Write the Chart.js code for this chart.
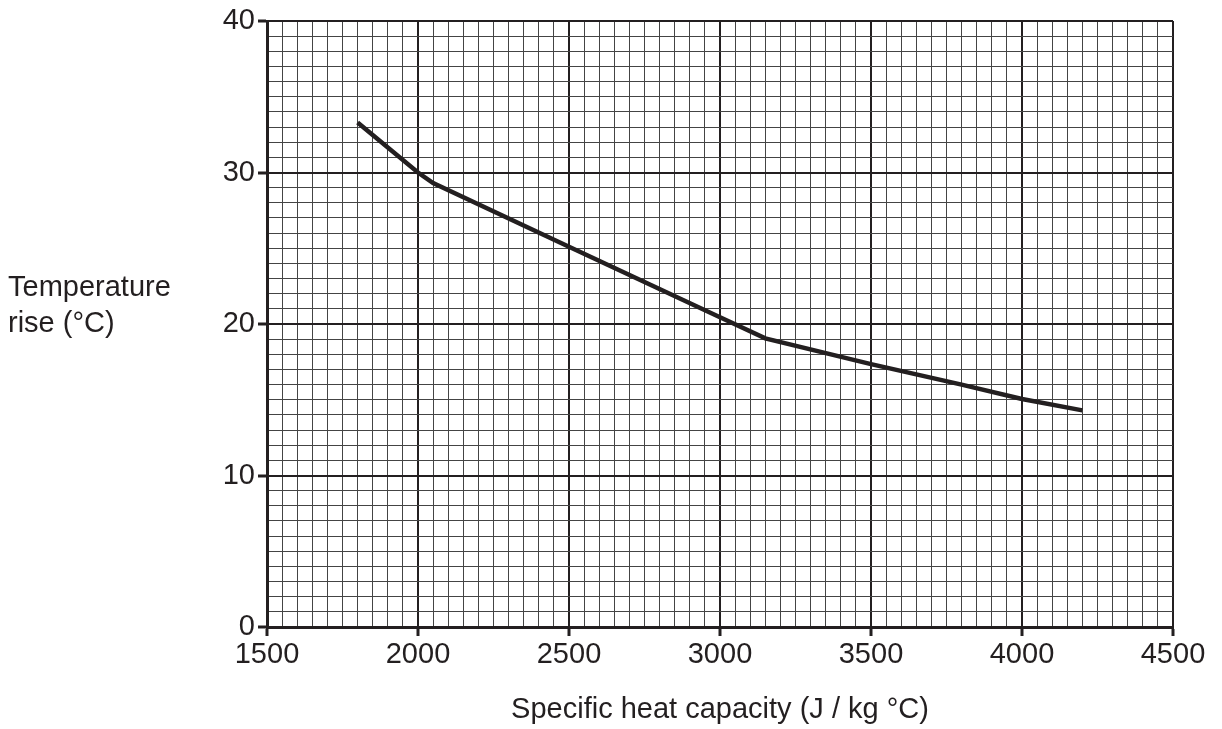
<!DOCTYPE html>
<html>
<head>
<meta charset="utf-8">
<script src="https://cdn.jsdelivr.net/npm/chart.js@4.4.1/dist/chart.umd.min.js"></script>
<style>
  html, body { margin: 0; padding: 0; background: #fff; }
  #wrap { position: relative; width: 1222px; height: 729px; }
  #yTitle {
    position: absolute; left: 8px; top: 268px;
    font-family: "Liberation Sans", Arial, sans-serif;
    font-size: 29px; line-height: 36px; color: #231f20;
  }
</style>
</head>
<body>
<div id="wrap">
  <canvas id="heatChart" width="1222" height="729"></canvas>
  <div id="yTitle">Temperature<br>rise (°C)</div>
</div>
<script>
const capacity = [1800, 2000, 2050, 2500, 3000, 3150, 3500, 3800, 4000, 4200];
const tempRise = [33.3, 30.0, 29.3, 25.1, 20.45, 19.05, 17.35, 16.0, 15.05, 14.3];

const xTicks = [1500, 2000, 2500, 3000, 3500, 4000, 4500];
const yTicks = [0, 10, 20, 30, 40];

const ink = "#231f20";
const font = { family: "'Liberation Sans', Arial, sans-serif", size: 29 };

const isMajorX = (v) => xTicks.includes(v);
const isMajorY = (v) => yTicks.includes(v);

const points = capacity.map((c, i) => ({ x: c, y: tempRise[i] }));

new Chart(document.getElementById("heatChart"), {
  type: "scatter",
  data: {
    datasets: [
      {
        data: points,
        showLine: true,
        borderColor: ink,
        borderWidth: 4.5,
        pointRadius: 0,
        tension: 0,
      },
    ],
  },
  options: {
    responsive: false,
    animation: false,
    events: [],
    layout: { padding: { left: 0, right: 49, top: 21, bottom: 0 } },
    plugins: { legend: { display: false }, tooltip: { enabled: false } },
    scales: {
      x: {
        type: "linear",
        min: xTicks[0],
        max: xTicks[xTicks.length - 1],
        afterFit: (scale) => { scale.height = 102; },
        afterBuildTicks: (scale) => {
          const t = [];
          for (let v = xTicks[0]; v <= xTicks[xTicks.length - 1]; v += 50) t.push({ value: v });
          scale.ticks = t;
        },
        ticks: {
          autoSkip: false,
          maxRotation: 0,
          padding: 2,
          color: ink,
          font: font,
          callback: (v) => (isMajorX(v) ? String(v) : ""),
        },
        grid: {
          color: (ctx) => (isMajorX(ctx.tick.value) ? ink : "#444"),
          lineWidth: (ctx) => (isMajorX(ctx.tick.value) ? 2 : 1),
          tickLength: 9,
          tickColor: (ctx) => (isMajorX(ctx.tick.value) ? ink : "rgba(0,0,0,0)"),
          tickWidth: 3,
        },
        border: { color: ink, width: 3 },
        title: {
          display: true,
          text: "Specific heat capacity (J / kg °C)",
          color: ink,
          font: font,
          padding: { top: 12, bottom: 2 },
        },
      },
      y: {
        type: "linear",
        min: yTicks[0],
        max: yTicks[yTicks.length - 1],
        afterFit: (scale) => { scale.width = 267; },
        afterBuildTicks: (scale) => {
          const t = [];
          for (let v = yTicks[0]; v <= yTicks[yTicks.length - 1]; v += 1) t.push({ value: v });
          scale.ticks = t;
        },
        ticks: {
          autoSkip: false,
          padding: 3,
          color: ink,
          font: font,
          callback: (v) => (isMajorY(v) ? String(v) : ""),
        },
        grid: {
          color: (ctx) => (isMajorY(ctx.tick.value) ? ink : "#444"),
          lineWidth: (ctx) => (isMajorY(ctx.tick.value) ? 2 : 1),
          tickLength: 9,
          tickColor: (ctx) => (isMajorY(ctx.tick.value) ? ink : "rgba(0,0,0,0)"),
          tickWidth: 3,
        },
        border: { color: ink, width: 3 },
      },
    },
  },
});
</script>
</body>
</html>
